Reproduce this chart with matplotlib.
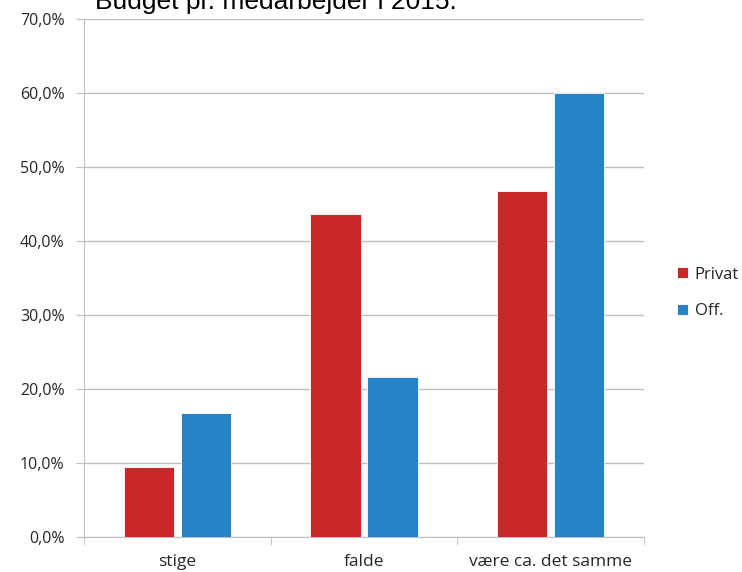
import matplotlib
matplotlib.use("Agg")
import matplotlib.pyplot as plt
import numpy as np
from matplotlib.ticker import FuncFormatter, MultipleLocator

categories = ["stige", "falde", "være ca. det samme"]
series_names = ["Privat", "Off."]
privat = [9.4, 43.6, 46.8]
off = [16.7, 21.6, 60.0]
colors = ["#C9282A", "#2683C6"]
title = "Budget pr. medarbejder i 2015:"

plt.rcParams['font.family'] = ['Open Sans', 'DejaVu Sans']

fig = plt.figure(figsize=(7.42, 5.72), dpi=100)
ax = fig.add_axes([84/742, (572-537)/572, (644-84)/742, (537-19)/572])

x = np.arange(len(categories))
w = 0.27
gap = 0.035
for vals, name, c, off_x in [(privat, series_names[0], colors[0], -(w+gap)/2), (off, series_names[1], colors[1], (w+gap)/2)]:
    ax.bar(x + off_x, vals, width=w, color=c, label=name, edgecolor="#FFFFFF", linewidth=0.6, zorder=3)

ax.set_xlim(-0.5, len(categories) - 0.5)
ax.set_ylim(0, 70)
ax.yaxis.set_major_locator(MultipleLocator(10))
ax.yaxis.set_major_formatter(FuncFormatter(lambda v, p: f"{v:.1f}%".replace(".", ",")))
ax.grid(axis="y", color="#BFBFBF", linewidth=1.0, zorder=0)
ax.set_axisbelow(True)

for s in ["top", "right"]:
    ax.spines[s].set_visible(False)
ax.spines["left"].set_color("#BFBFBF")
ax.spines["bottom"].set_color("#BFBFBF")

ax.set_xticks(x)
ax.set_xticklabels(categories, fontsize=12.5, color="#262626")
ax.tick_params(axis="x", length=0, pad=12)
ax.set_xticks(np.arange(len(categories) + 1) - 0.5, minor=True)
ax.tick_params(axis="x", which="minor", length=6, color="#BFBFBF")
ax.tick_params(axis="y", length=6, color="#BFBFBF", labelsize=11.5, labelcolor="#262626", pad=8)

leg = ax.legend(loc="center left", bbox_to_anchor=(677/742, 1 - 293/572), bbox_transform=fig.transFigure,
                frameon=False, fontsize=12, handlelength=0.65, handleheight=0.65, handletextpad=0.4,
                labelspacing=1.25, borderpad=0, borderaxespad=0)
for t in leg.get_texts():
    t.set_color("#262626")

fig.text(95/742, 1 - 9/572, title, fontsize=19, va="baseline", ha="left", color="#000000",
         family=["Liberation Sans", "DejaVu Sans"])

fig.savefig("out.png", dpi=100)
